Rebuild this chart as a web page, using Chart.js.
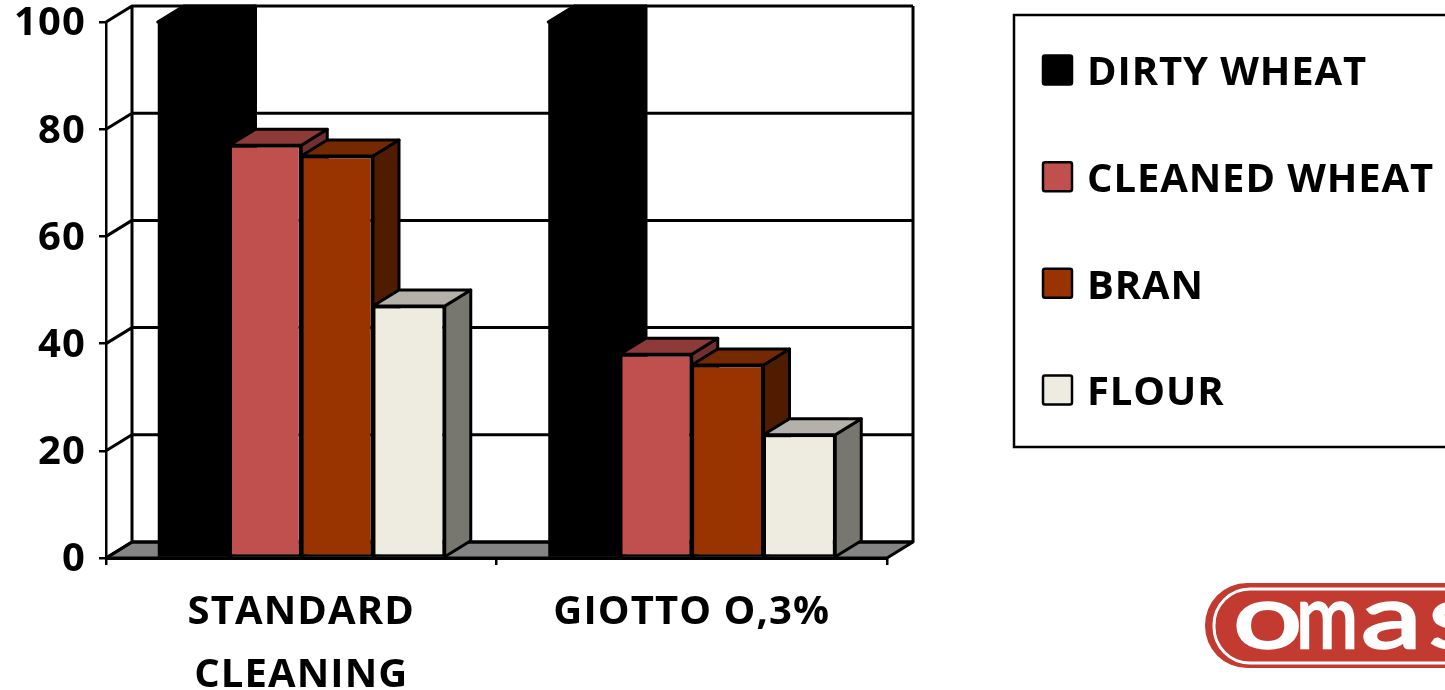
<!DOCTYPE html>
<html>
<head>
<meta charset="utf-8">
<title>Wheat cleaning</title>
<style>
    html, body { margin: 0; padding: 0; background: #fff; }
    canvas { display: block; }
</style>
<script src="https://cdn.jsdelivr.net/npm/chart.js@4/dist/chart.umd.min.js"></script>
</head>
<body>
<canvas id="wheatChart" width="1445" height="690"></canvas>
<script>
const categories = [["STANDARD", "CLEANING"], "GIOTTO O,3%"];
const seriesNames = ["DIRTY WHEAT", "CLEANED WHEAT", "BRAN", "FLOUR"];
const dirtyWheat = [100, 100];
const cleanedWheat = [77, 38];
const bran = [75, 36];
const flour = [47, 23];
const yTickStep = 20;

const frontColors = ["#000000", "#C0504D", "#993300", "#EEECE1"];
const topColors = ["#000000", "#8D3A38", "#752900", "#B3B1A9"];
const sideColors = ["#000000", "#70302E", "#4F1C00", "#78776F"];

const fontFamily = "'Open Sans', Lato, sans-serif";
const depthX = 26;
const depthY = 16;

function fill_poly(ctx, points, fill) {
    ctx.beginPath();
    points.forEach((p, i) => i ? ctx.lineTo(p[0], p[1]) : ctx.moveTo(p[0], p[1]));
    ctx.closePath();
    ctx.fillStyle = fill;
    ctx.fill();
    ctx.stroke();
}

// floor and back walls sit behind everything else
function draw_walls(chart) {
    const ctx = chart.ctx;
    const area = chart.chartArea;
    const yScale = chart.scales.y;

    // tick labels and legend text all run slightly wide
    ctx.letterSpacing = "1.1px";

    ctx.save();
    ctx.strokeStyle = "#000";
    ctx.lineWidth = 3;
    ctx.lineJoin = "round";

    fill_poly(ctx, [
        [area.left, area.bottom],
        [area.left + depthX, area.bottom - depthY],
        [area.right + depthX, area.bottom - depthY],
        [area.right, area.bottom]
    ], "#848484");

    ctx.beginPath();
    yScale.ticks.forEach(tick => {
        const y = yScale.getPixelForValue(tick.value);
        ctx.moveTo(area.left, y);
        ctx.lineTo(area.left + depthX, y - depthY);
        ctx.lineTo(area.right + depthX, y - depthY);
    });
    ctx.moveTo(area.left + depthX, area.top - depthY);
    ctx.lineTo(area.left + depthX, area.bottom - depthY);
    ctx.moveTo(area.right + depthX, area.top - depthY);
    ctx.lineTo(area.right + depthX, area.bottom - depthY);
    ctx.stroke();
    ctx.restore();
}

// top and side faces of one series, painted just before its front faces
function draw_bar_faces(chart, index, meta) {
    const ctx = chart.ctx;
    ctx.save();
    ctx.strokeStyle = "#000";
    ctx.lineWidth = 3;
    ctx.lineJoin = "round";
    meta.data.forEach(bar => {
        const left = bar.x - bar.width / 2;
        const right = bar.x + bar.width / 2;
        fill_poly(ctx, [
            [right, bar.y],
            [right + depthX, bar.y - depthY],
            [right + depthX, bar.base - depthY],
            [right, bar.base]
        ], sideColors[index]);
        fill_poly(ctx, [
            [left, bar.y],
            [left + depthX, bar.y - depthY],
            [right + depthX, bar.y - depthY],
            [right, bar.y]
        ], topColors[index]);
    });
    ctx.restore();
}

function draw_legend(chart) {
    const ctx = chart.ctx;
    ctx.save();
    ctx.letterSpacing = "0.9px";
    ctx.strokeStyle = "#000";
    ctx.lineWidth = 2.5;
    ctx.strokeRect(1014, 15, 460, 432);
    ctx.font = "bold 40px " + fontFamily;
    ctx.textBaseline = "middle";
    chart.data.datasets.forEach((dataset, i) => {
        const rowY = 70 + i * 106.67;
        ctx.fillStyle = frontColors[i];
        ctx.beginPath();
        ctx.roundRect(1043, rowY - 14.5, 29, 29, 2);
        ctx.fill();
        ctx.stroke();
        ctx.fillStyle = "#000";
        ctx.fillText(dataset.label, 1087, rowY + 4);
    });
    ctx.restore();
}

// company badge in the lower right corner, runs off the page edge
function draw_badge(chart) {
    const ctx = chart.ctx;
    ctx.save();
    ctx.letterSpacing = "0px";
    ctx.fillStyle = "#C23A30";
    ctx.beginPath();
    ctx.roundRect(1205, 583, 400, 85, 42);
    ctx.fill();
    ctx.strokeStyle = "#fff";
    ctx.lineWidth = 3;
    ctx.beginPath();
    ctx.roundRect(1214, 589, 400, 74, 36);
    ctx.stroke();

    const shine = ctx.createLinearGradient(0, 600, 0, 650);
    shine.addColorStop(0, "#ffffff");
    shine.addColorStop(0.6, "#E4E4E4");
    shine.addColorStop(1, "#C4C4C4");
    ctx.fillStyle = shine;
    ctx.strokeStyle = shine;
    ctx.lineWidth = 2.5;
    ctx.font = "normal 90px Lato, sans-serif";
    ctx.textBaseline = "alphabetic";
    ["o", "m", "a", "s"].forEach((letter, i) => {
        const startX = [1233, 1296, 1361, 1429][i];
        const stretch = [1.36, 0.84, 1.36, 1.2][i];
        ctx.save();
        ctx.translate(startX, 648);
        ctx.scale(stretch, 1);
        ctx.fillText(letter, 0, 0);
        ctx.strokeText(letter, 0, 0);
        ctx.restore();
    });
    ctx.restore();
}

const wheatPlugin = {
    id: "wheatPlugin",
    beforeDraw: draw_walls,
    // series paint left to right so each one covers the side face of the one before
    beforeDatasetsDraw(chart) {
        const metas = chart.getSortedVisibleDatasetMetas();
        metas.forEach(meta => {
            draw_bar_faces(chart, meta.index, meta);
            meta.controller.draw();
        });
        return false;
    },
    afterDraw(chart) {
        draw_legend(chart);
        draw_badge(chart);
    }
};

const seriesValues = [dirtyWheat, cleanedWheat, bran, flour];

new Chart(document.getElementById("wheatChart"), {
    type: "bar",
    data: {
        labels: categories,
        datasets: seriesNames.map((name, i) => ({
            label: name,
            data: seriesValues[i],
            backgroundColor: frontColors[i],
            borderColor: "#000",
            borderWidth: i === 0 ? 0 : 2.5,
            borderSkipped: false,
            categoryPercentage: 0.735,
            barPercentage: 1
        }))
    },
    options: {
        responsive: false,
        animation: false,
        layout: { padding: { top: 22, right: 558, left: 0, bottom: 0 } },
        plugins: {
            legend: { display: false },
            tooltip: { enabled: false }
        },
        scales: {
            x: {
                afterFit(scale) {
                    scale.height = 132;
                    scale.paddingLeft = 0;
                    scale.paddingRight = 0;
                },
                grid: { drawOnChartArea: false, color: "#000", lineWidth: 2.5, tickLength: 7 },
                border: { color: "#000", width: 3, z: 1 },
                ticks: {
                    color: "#000",
                    padding: 16,
                    maxRotation: 0,
                    font: { family: fontFamily, weight: "bold", size: 40, lineHeight: 1.58 }
                }
            },
            y: {
                min: 0,
                max: 100,
                afterFit(scale) {
                    scale.width = 106;
                    scale.paddingTop = 0;
                    scale.paddingBottom = 0;
                },
                grid: { drawOnChartArea: false, color: "#000", lineWidth: 2.5, tickLength: 7 },
                border: { color: "#000", width: 2.5 },
                ticks: {
                    stepSize: yTickStep,
                    color: "#000",
                    padding: 13,
                    labelOffset: 2,
                    font: { family: fontFamily, weight: "bold", size: 40 }
                }
            }
        }
    },
    plugins: [wheatPlugin]
});
</script>
</body>
</html>
